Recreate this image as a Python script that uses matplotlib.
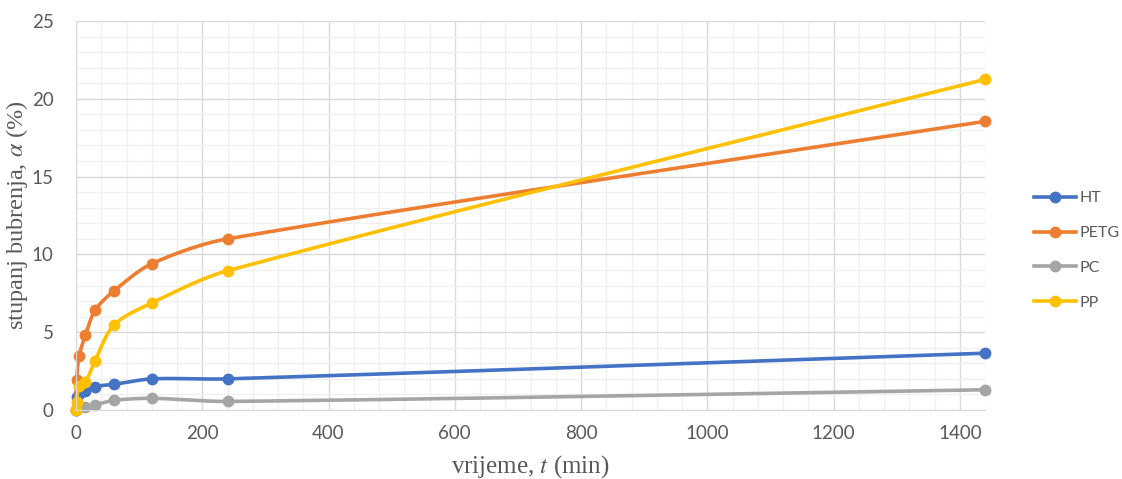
import numpy as np
import matplotlib
matplotlib.use("Agg")
import matplotlib.pyplot as plt
from matplotlib.ticker import MultipleLocator

t = [0, 1, 5, 15, 30, 60, 120, 240, 1440]
ht = [0, 0.85, 1.0, 1.2, 1.5, 1.65, 2.0, 2.0, 3.65]
petg = [0, 1.9, 3.5, 4.8, 6.4, 7.65, 9.4, 11.0, 18.55]
pc = [0, 0.15, 0.2, 0.22, 0.33, 0.62, 0.75, 0.55, 1.3]
pp = [0, 0.5, 1.55, 1.8, 3.15, 5.45, 6.88, 8.95, 21.25]

names = ["HT", "PETG", "PC", "PP"]
series = [ht, petg, pc, pp]
colours = ["#4472C4", "#ED7D31", "#A5A5A5", "#FFC000"]

XMAX, YMAX = 1440, 25

plt.rcParams["mathtext.fontset"] = "stix"


def smooth(x, y, ax_w, ax_h, n=60, k=0.3):
    # smoothed line like Excel: bezier segments, tangent length scaled to the segment (screen space)
    p = np.column_stack([np.asarray(x, float) / XMAX * ax_w, np.asarray(y, float) / YMAX * ax_h])
    tang = []
    for i in range(len(p)):
        a = p[i - 1] if i > 0 else p[i]
        b = p[i + 1] if i + 1 < len(p) else p[i]
        d = b - a
        tang.append(d / (np.linalg.norm(d) + 1e-9))
    out = [p[0]]
    s = np.linspace(0, 1, n)[1:, None]
    for i in range(len(p) - 1):
        p1, p2 = p[i], p[i + 1]
        L = np.linalg.norm(p2 - p1)
        c1 = p1 + tang[i] * L * k
        c2 = p2 - tang[i + 1] * L * k
        seg = (1 - s) ** 3 * p1 + 3 * (1 - s) ** 2 * s * c1 + 3 * (1 - s) * s ** 2 * c2 + s ** 3 * p2
        out.extend(seg)
    out = np.array(out)
    return out[:, 0] / ax_w * XMAX, out[:, 1] / ax_h * YMAX


fig = plt.figure(figsize=(11.22, 4.79), dpi=100)
ax = fig.add_axes([76 / 1122, 1 - 410 / 479, 909 / 1122, 389 / 479])
ax_w, ax_h = 909, 389

for name, vals, col in zip(names, series, colours):
    sx, sy = smooth(t, vals, ax_w, ax_h)
    ax.plot(sx, sy, color=col, lw=2.6, solid_capstyle="round", clip_on=False)
    ax.plot(t, vals, "o", color=col, ms=7.5, clip_on=False)
    ax.plot([], [], "-o", color=col, lw=2.6, ms=7.5, label=name)

ax.set_xlim(0, XMAX)
ax.set_ylim(0, YMAX)
ax.xaxis.set_major_locator(MultipleLocator(200))
ax.xaxis.set_minor_locator(MultipleLocator(40))
ax.yaxis.set_major_locator(MultipleLocator(5))
ax.yaxis.set_minor_locator(MultipleLocator(1))
ax.grid(which="major", color="#d9d9d9", lw=1.0)
ax.grid(which="minor", color="#f0f0f0", lw=1.0)
ax.set_axisbelow(True)
for sp in ["top", "right"]:
    ax.spines[sp].set_visible(False)
for sp in ["left", "bottom"]:
    ax.spines[sp].set_color("#d9d9d9")
ax.tick_params(which="both", length=0, labelsize=13.5, labelcolor="#595959")
ax.tick_params(axis="x", pad=11)
ax.tick_params(axis="y", pad=16)
for lab in ax.get_xticklabels() + ax.get_yticklabels():
    lab.set_family("Lato")

ax.set_xlabel("vrijeme, $\\mathit{t}$ (min)", family="Liberation Serif", fontsize=18, color="#595959", labelpad=8)
ax.set_ylabel("stupanj bubrenja, $\\mathit{\\alpha}$ (%)", family="Liberation Serif", fontsize=17.5, color="#595959", labelpad=1)

leg = ax.legend(loc="center left", bbox_to_anchor=(1034 / 1122, 0.477), bbox_transform=fig.transFigure,
                frameon=False, handlelength=2.6, handletextpad=0.25, borderaxespad=0, borderpad=0,
                labelspacing=1.3, prop={"family": "Lato", "size": 11.5})
for txt in leg.get_texts():
    txt.set_color("#595959")

fig.savefig("out.png", dpi=100)
